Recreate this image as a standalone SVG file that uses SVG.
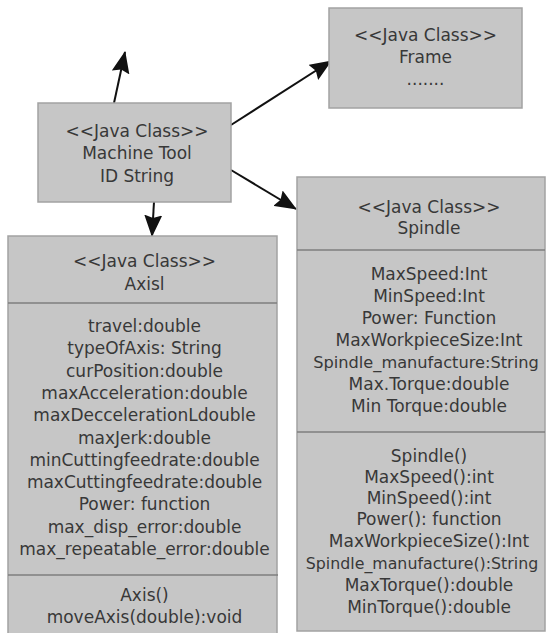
<svg xmlns="http://www.w3.org/2000/svg" width="548" height="633" viewBox="0 0 548 633">
<defs>
<style>
.box{fill:#c6c6c6;stroke:#a2a2a2;stroke-width:1.5}
.div{stroke:#7e7e7e;stroke-width:1.5}
.t{font-family:"DejaVu Sans",sans-serif;font-size:17px;fill:#383838;text-anchor:middle}
.c{stroke:#111;stroke-width:2;fill:none}
</style>
<marker id="ah" markerUnits="userSpaceOnUse" markerWidth="22" markerHeight="18" viewBox="0 0 22 18" refX="21" refY="9" orient="auto">
<path d="M0,0 L22,9 L0,18 L3,9 z" fill="#111"/>
</marker>
</defs>
<rect width="548" height="633" fill="#fff"/>
<g id="connectors">
<line class="c" x1="114" y1="103" x2="125" y2="52" marker-end="url(#ah)"/>
<line class="c" x1="231" y1="125" x2="331" y2="61" marker-end="url(#ah)"/>
<line class="c" x1="231" y1="170" x2="296" y2="209" marker-end="url(#ah)"/>
<line class="c" x1="154" y1="202" x2="152" y2="236" marker-end="url(#ah)"/>
</g>
<g id="machine-tool">
<rect class="box" x="38" y="103" width="193" height="99"/>
<text class="t" x="137" y="137">&lt;&lt;Java Class&gt;&gt;</text>
<text class="t" x="137" y="159">Machine Tool</text>
<text class="t" x="137" y="182">ID String</text>
</g>
<g id="frame">
<rect class="box" x="329" y="8" width="193" height="100"/>
<text class="t" x="425.5" y="41">&lt;&lt;Java Class&gt;&gt;</text>
<text class="t" x="425.5" y="63">Frame</text>
<text class="t" x="425.5" y="85">.......</text>
</g>
<g id="axis">
<rect class="box" x="8" y="236" width="269" height="410"/>
<line class="div" x1="8" y1="303" x2="277" y2="303"/>
<line class="div" x1="8" y1="575" x2="278" y2="575"/>
<text class="t" x="144.5" y="267">&lt;&lt;Java Class&gt;&gt;</text>
<text class="t" x="144.5" y="290">Axisl</text>
<text class="t" x="144.5" y="332">travel:double</text>
<text class="t" x="144.5" y="354.3">typeOfAxis: String</text>
<text class="t" x="144.5" y="376.6">curPosition:double</text>
<text class="t" x="144.5" y="398.9">maxAcceleration:double</text>
<text class="t" x="144.5" y="421.2">maxDeccelerationLdouble</text>
<text class="t" x="144.5" y="443.5">maxJerk:double</text>
<text class="t" x="144.5" y="465.8">minCuttingfeedrate:double</text>
<text class="t" x="144.5" y="488.1">maxCuttingfeedrate:double</text>
<text class="t" x="144.5" y="510.4">Power: function</text>
<text class="t" x="144.5" y="532.7">max_disp_error:double</text>
<text class="t" x="144.5" y="555">max_repeatable_error:double</text>
<text class="t" x="144.5" y="601">Axis()</text>
<text class="t" x="144.5" y="623">moveAxis(double):void</text>
</g>
<g id="spindle">
<rect class="box" x="297" y="177" width="248" height="454"/>
<line class="div" x1="297" y1="250" x2="545" y2="250"/>
<line class="div" x1="297" y1="432" x2="545" y2="432"/>
<text class="t" x="429" y="213">&lt;&lt;Java Class&gt;&gt;</text>
<text class="t" x="429" y="234">Spindle</text>
<text class="t" x="429" y="280">MaxSpeed:Int</text>
<text class="t" x="429" y="302">MinSpeed:Int</text>
<text class="t" x="429" y="324">Power: Function</text>
<text class="t" x="429" y="346">MaxWorkpieceSize:Int</text>
<text class="t" x="426" y="368" style="font-size:16.2px">Spindle_manufacture:String</text>
<text class="t" x="429" y="390">Max.Torque:double</text>
<text class="t" x="429" y="412">Min Torque:double</text>
<text class="t" x="429" y="462">Spindle()</text>
<text class="t" x="429" y="483">MaxSpeed():int</text>
<text class="t" x="429" y="504">MinSpeed():int</text>
<text class="t" x="429" y="525">Power(): function</text>
<text class="t" x="429" y="547">MaxWorkpieceSize():Int</text>
<text class="t" x="422" y="569" style="font-size:15.8px">Spindle_manufacture():String</text>
<text class="t" x="429" y="591">MaxTorque():double</text>
<text class="t" x="429" y="613">MinTorque():double</text>
</g>
</svg>
